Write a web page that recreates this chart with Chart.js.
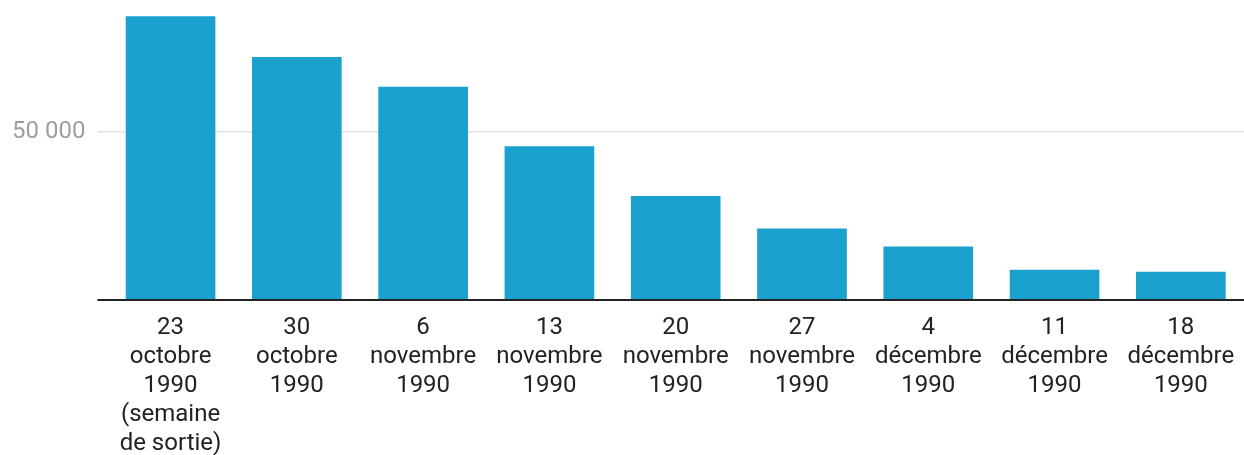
<!DOCTYPE html>
<html>
<head>
<meta charset="utf-8">
<script src="https://cdn.jsdelivr.net/npm/chart.js@4/dist/chart.umd.min.js"></script>
<style>
  html, body { margin: 0; padding: 0; background: #fff; }
  .chart { width: 1244px; height: 455px; }
</style>
</head>
<body>
<div class="chart"><canvas id="chart"></canvas></div>
<script>
const categories = [
  ["23", "octobre", "1990", "(semaine", "de sortie)"],
  ["30", "octobre", "1990"],
  ["6", "novembre", "1990"],
  ["13", "novembre", "1990"],
  ["20", "novembre", "1990"],
  ["27", "novembre", "1990"],
  ["4", "décembre", "1990"],
  ["11", "décembre", "1990"],
  ["18", "décembre", "1990"]
]
const entries = [84500, 72400, 63500, 45800, 31000, 21300, 15900, 9000, 8400]
const yTicks = [0, 50000]

const fmt = v => String(v).replace(/\B(?=(\d{3})+(?!\d))/g, " ")

new Chart(document.getElementById("chart"), {
  type: "bar",
  data: {
    labels: categories,
    datasets: [{
      label: "Entrées",
      data: entries,
      backgroundColor: "#1ba1cd",
      borderWidth: 0,
      categoryPercentage: 1,
      barPercentage: 0.71,
      clip: false
    }]
  },
  options: {
    responsive: true,
    maintainAspectRatio: false,
    animation: false,
    layout: { padding: { left: 0, right: 0, top: 0, bottom: -9 } },
    plugins: {
      legend: { display: false },
      tooltip: { enabled: false }
    },
    scales: {
      x: {
        grid: { display: false },
        border: { display: false },
        ticks: {
          color: "#222",
          font: { family: "Roboto", size: 24, lineHeight: 1.2 },
          padding: 6,
          maxRotation: 0,
          autoSkip: false
        }
      },
      y: {
        min: 0,
        max: 81500,
        afterBuildTicks: axis => { axis.ticks = yTicks.map(v => ({ value: v })) },
        border: { display: false },
        grid: {
          color: ctx => ctx.tick && ctx.tick.value === 0 ? "#222" : "#e3e3e3",
          lineWidth: ctx => ctx.tick && ctx.tick.value === 0 ? 2 : 1.5,
          tickLength: 10
        },
        ticks: {
          color: "#9e9e9e",
          font: { family: "Roboto", size: 24 },
          padding: 12,
          callback: v => v === 0 ? "" : fmt(v)
        }
      }
    }
  }
})
</script>
</body>
</html>
